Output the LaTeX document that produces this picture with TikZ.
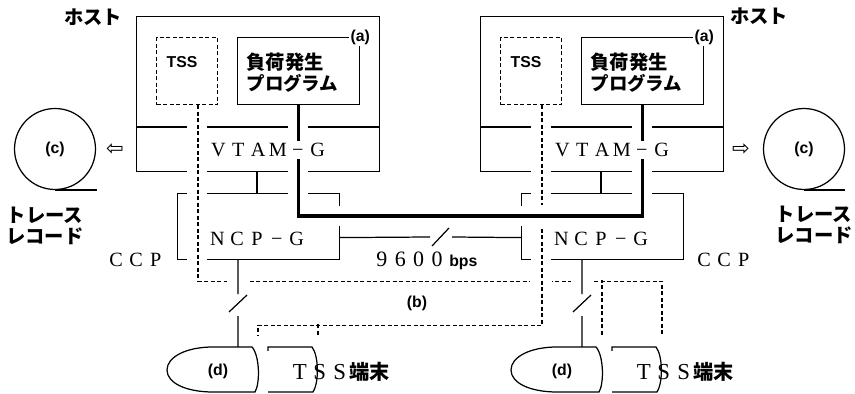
\documentclass[tikz,border=0pt]{standalone}
\usepackage{fontspec}
\newfontfamily\jpfont{Noto Sans CJK JP}
\newfontfamily\tagfont{Liberation Sans}
\newfontfamily\romfont{Liberation Serif}
\newfontfamily\symfont{DejaVu Sans}
% chữ có độ rộng cố định (toàn khổ)
\newlength\cellw
\setlength\cellw{11.3pt}
\def\fwtext#1{\fwloop#1\relax}
\def\fwloop#1{\ifx#1\relax\else\makebox[\cellw]{#1}\expandafter\fwloop\fi}

\begin{document}
\begin{tikzpicture}[x=0.02cm, y=-0.02cm, line width=0.7pt,
    box/.style={draw, inner sep=0pt, anchor=north west},
    thickline/.style={line width=2.1pt},
    tssline/.style={dash pattern=on 2.3pt off 1.4pt},
    crossgap/.style={fill=white},
    jp/.style={font=\jpfont\bfseries\fontsize{11}{12}\selectfont, inner sep=0pt},
    tag/.style={font=\tagfont\bfseries\fontsize{9}{10}\selectfont},
    rom/.style={font=\romfont\fontsize{11.5}{13}\selectfont, inner sep=0pt}]
    \useasboundingbox (0,0) rectangle (855,394);

    % Máy chủ, CCP và thiết bị đầu cuối
    \foreach \i/\dx in {1/0, 2/344} {
      \begin{scope}[shift={(\dx,0)}]
        \node[box, minimum width=4.86cm, minimum height=3.1cm] (host\i) at (136,16) {};
        \draw (136,127) -- (379,127);
        \node[box, tssline, minimum width=1.22cm, minimum height=1.34cm] (tss\i) at (156,37) {};
        \node[tag] (tsstxt\i) at (182,62) {TSS};
        \node[box, minimum width=2.44cm, minimum height=1.34cm] (prog\i) at (237,37) {};
        \node[jp, anchor=west] (load\i) at (246,62) {負荷発生};
        \node[font=\jpfont\bfseries\fontsize{10.5}{12}\selectfont, inner sep=0pt, anchor=west] (pgm\i) at (246,83) {プログラム};
        \node[tag, fill=white, inner sep=1pt] (a\i) at (prog\i.north east) {(a)};
        \draw (257,171) -- (257,193);
        \node[box, minimum width=3.24cm, minimum height=1.32cm] (ccp\i) at (177,193) {};
        \node[rom] (ncp\i) at (257,239) {\fwtext{NCP−G}};
        % đầu cuối (d) và TSS
        \draw (252,347) -- (213,347) .. controls (186,347) and (167,357) .. (167,370)
              .. controls (167,383) and (186,392) .. (213,392) -- (255,392)
              .. controls (260,384) and (260,356) .. (252,347);
        \coordinate (dtop\i) at (238,347);
        \node[tag] (dterm\i) at (218,371) {(d)};
        \draw (268,351) -- (268,347) -- (312,347) .. controls (319,356) and (319,383) .. (313,392) -- (268,392);
        \node[inner sep=0pt] (tssterm\i) at (340,372) {{\romfont\fontsize{13}{14}\selectfont\fwtext{TSS}}{\jpfont\bfseries\fontsize{11.5}{14}\selectfont 端末}};
        \coordinate (legA\i) at (258,335);
        \coordinate (legB\i) at (318,335);
      \end{scope}
    }

    % Đường 9600 bps
    \draw ([yshift=-0.22cm]ccp1.east) -- (430,237) (452,237) -- ([yshift=-0.22cm]ccp2.west);
    \draw (432,246) -- (449,228);
    \node[inner sep=0pt] (rate) at (425,261) {{\romfont\fontsize{12.5}{14}\selectfont\setlength\cellw{10.5pt}\fwtext{9600}}\,{\tagfont\bfseries\fontsize{9}{10}\selectfont bps}};

    % Chỗ cắt nhau
    \foreach \x/\y in {197/127, 197/171, 197/193, 197/259, 298/127, 298/171, 298/193,
                       541/127, 541/171, 541/193, 541/259, 642/127, 642/171, 642/193,
                       339/216, 521/216}
      \fill[crossgap] (\x-10,\y-10) rectangle (\x+10,\y+10);

    % TSS bên trái -> đầu cuối bên phải
    \draw[tssline] ([xshift=0.22cm]tss1.south) -- ++(0,176) -| (legB2);
    \draw[tssline] (legA2) -- ++(0,-55);
    \foreach \x in {238, 541, 582}
      \fill[crossgap] (\x-11,270) rectangle (\x+11,290);

    % Đường NCP xuống đầu cuối
    \foreach \i/\dx in {1/0, 2/344} {
      \draw ([xshift=1.22cm]ccp\i.south west) -- ++(0,34) ++(0,22) -- (dtop\i);
      \draw[shift={(\dx,0)}] (229,312) -- (247,295);
    }

    % TSS bên phải -> đầu cuối bên trái
    \draw[tssline] ([xshift=0.22cm]tss2.south) -- ++(0,220) -| (legA1);
    \draw[tssline] (legB1) -- ++(0,-11);
    \node[tag] (btag) at (417,303) {(b)};
    \fill[crossgap] (531,205) rectangle (551,226);

    % Đường đậm nối hai chương trình
    \draw[thickline] (prog1.south) -- ++(0,111) -| (prog2.south);
    \node[rom, fill=white, inner sep=1.5pt] (vtam1) at (268,150) {\fwtext{VTAM−G}};
    \node[rom, fill=white, inner sep=1.5pt] (vtam2) at (612,150) {\fwtext{VTAM−G}};

    % Nhãn
    \node[jp] (hostlbl1) at (93,17) {ホスト};
    \node[jp] (hostlbl2) at (759,16) {ホスト};
    \node[rom] (ccplbl1) at (136,260) {\fwtext{CCP}};
    \node[rom] (ccplbl2) at (724,260) {\fwtext{CCP}};

    % Băng ghi vết
    \node[draw, circle, minimum size=1.62cm, inner sep=0pt, tag] (tape1) at (55,149) {(c)};
    \draw (tape1.south) -- ++(42,0);
    \node[draw, circle, minimum size=1.62cm, inner sep=0pt, tag] (tape2) at (804,149) {(c)};
    \draw (tape2.south) -- ++(41,0);
    \node[font=\symfont\fontsize{12}{12}\selectfont] (arr1) at (115,150) {⇦};
    \node[font=\symfont\fontsize{12}{12}\selectfont] (arr2) at (741,150) {⇨};
    \node[jp, align=center] (trace1) at (45,226) {トレース\\レコード};
    \node[jp, align=center] (trace2) at (814,225) {トレース\\レコード};
\end{tikzpicture}
\end{document}
